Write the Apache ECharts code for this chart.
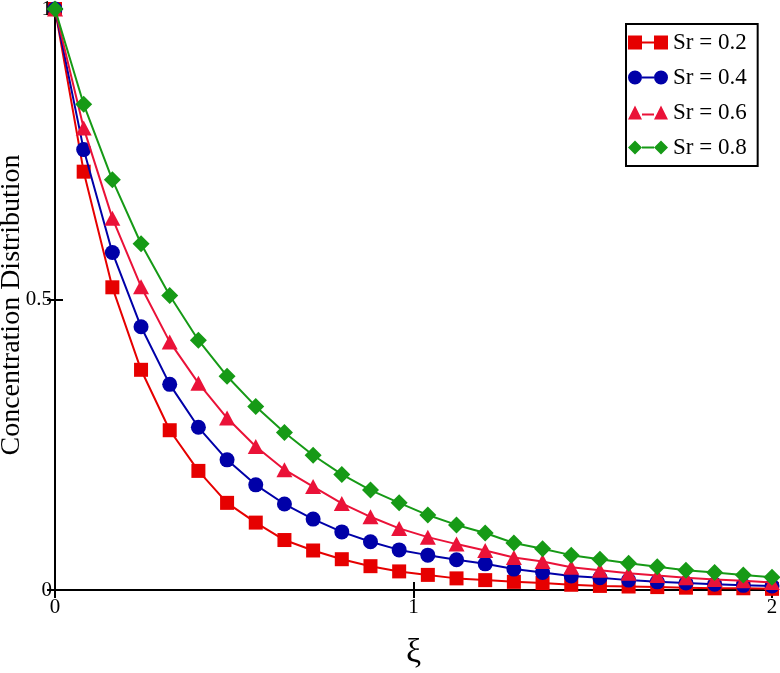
<!DOCTYPE html>
<html>
<head>
<meta charset="utf-8">
<script src="https://cdn.jsdelivr.net/npm/echarts@6/dist/echarts.min.js"></script>
<style>html,body{margin:0;padding:0;background:#fff;}#c{width:780px;height:673px;}</style>
</head>
<body>
<div id="c"></div>
<script>
const xi = [0,0.08,0.16,0.24,0.32,0.40,0.48,0.56,0.64,0.72,0.80,0.88,0.96,1.04,1.12,1.20,1.28,1.36,1.44,1.52,1.60,1.68,1.76,1.84,1.92,2.00];
const sr02 = [1,0.720,0.521,0.379,0.275,0.205,0.150,0.116,0.086,0.068,0.053,0.041,0.032,0.026,0.020,0.017,0.014,0.012,0.009,0.007,0.006,0.005,0.004,0.003,0.003,0.002];
const sr04 = [1,0.758,0.581,0.453,0.354,0.280,0.224,0.181,0.148,0.122,0.100,0.083,0.069,0.060,0.052,0.045,0.036,0.030,0.024,0.021,0.017,0.014,0.012,0.010,0.008,0.007];
const sr06 = [1,0.795,0.640,0.522,0.427,0.356,0.296,0.247,0.207,0.178,0.149,0.126,0.106,0.091,0.079,0.068,0.056,0.049,0.039,0.034,0.029,0.025,0.021,0.018,0.016,0.013];
const sr08 = [1,0.836,0.706,0.596,0.507,0.430,0.368,0.316,0.271,0.232,0.199,0.172,0.150,0.129,0.112,0.098,0.081,0.071,0.060,0.053,0.046,0.040,0.034,0.030,0.026,0.022];
const seriesNames = ['Sr = 0.2','Sr = 0.4','Sr = 0.6','Sr = 0.8'];
const xTicks = [0,1,2];
const yTicks = [0,0.5,1];
const xTitle = 'ξ';
const yTitle = 'Concentration Distribution';

const colors = ['#e60000','#0000a8','#ea1238','#169a16'];
const symbols = ['rect','circle','triangle','diamond'];
const symbolSizes = [14, 15, [16,15], [17,17]];
const legendIcons = [
  'path://M0 0H14V14H0Z M26 0H40V14H26Z M14 6H26V8H14Z',
  'path://M0 7A7 7 0 1 1 14 7A7 7 0 1 1 0 7Z M26 7A7 7 0 1 1 40 7A7 7 0 1 1 26 7Z M14 6H26V8H14Z',
  'path://M0 14L7 0L14 14Z M26 14L33 0L40 14Z M14 8H26V10H14Z',
  'path://M0 7L7 0L14 7L7 14Z M26 7L33 0L40 7L33 14Z M14 6H26V8H14Z'
];
const allData = [sr02, sr04, sr06, sr08];
const font = '"Liberation Serif","Times New Roman",serif';

const chart = echarts.init(document.getElementById('c'), null, {renderer:'canvas'});
const axisCommon = {
  type:'value',
  axisLine:{show:true, lineStyle:{color:'#000', width:2}},
  axisTick:{show:true, inside:true, length:8, lineStyle:{color:'#000', width:2}},
  splitLine:{show:false}
};
chart.setOption({
  animation:false,
  backgroundColor:'#fff',
  grid:{left:55, top:9, right:8, bottom:83, containLabel:false, outerBoundsMode:'none'},
  legend:{
    orient:'vertical', left:626, top:24,
    padding:[7,11,7,2], itemGap:12, itemWidth:40, itemHeight:14,
    borderColor:'#000', borderWidth:2, backgroundColor:'#fff',
    textStyle:{fontFamily:font, fontSize:23, color:'#000'},
    data: seriesNames.map((n,i)=>({name:n, icon:legendIcons[i]}))
  },
  graphic:[{
    type:'text', x:12, y:305, rotation:Math.PI/2, z:10,
    style:{text:yTitle, fontFamily:font, fontSize:28, fill:'#000', align:'center', verticalAlign:'middle'}
  }],
  xAxis:[
    Object.assign({}, axisCommon, {
      min:xTicks[0], max:xTicks[xTicks.length-1], interval:1, position:'bottom',
      name:xTitle, nameLocation:'middle', nameGap:46,
      nameTextStyle:{fontFamily:font, fontSize:34, color:'#000'},
      axisLabel:{fontFamily:font, fontSize:21, color:'#000', margin:7}
    }),
    Object.assign({}, axisCommon, {
      min:xTicks[0], max:xTicks[xTicks.length-1], interval:1, position:'top',
      axisLabel:{show:false}
    })
  ],
  yAxis:[
    Object.assign({}, axisCommon, {
      min:yTicks[0], max:yTicks[yTicks.length-1], interval:0.5, position:'left',
      axisLabel:{fontFamily:font, fontSize:21, color:'#000', margin:3}
    }),
    Object.assign({}, axisCommon, {
      min:yTicks[0], max:yTicks[yTicks.length-1], interval:0.5, position:'right',
      axisLabel:{show:false}
    })
  ],
  series: allData.map((d,i)=>({
    name:seriesNames[i], type:'line',
    data: xi.map((x,j)=>[x, d[j]]),
    symbol:symbols[i], symbolSize: symbolSizes[i],
    showAllSymbol:true, clip:false,
    smooth:false,
    lineStyle:{color:colors[i], width:2},
    itemStyle:{color:colors[i], borderWidth:0},
    z: 2+i
  }))
});
</script>
</body>
</html>
